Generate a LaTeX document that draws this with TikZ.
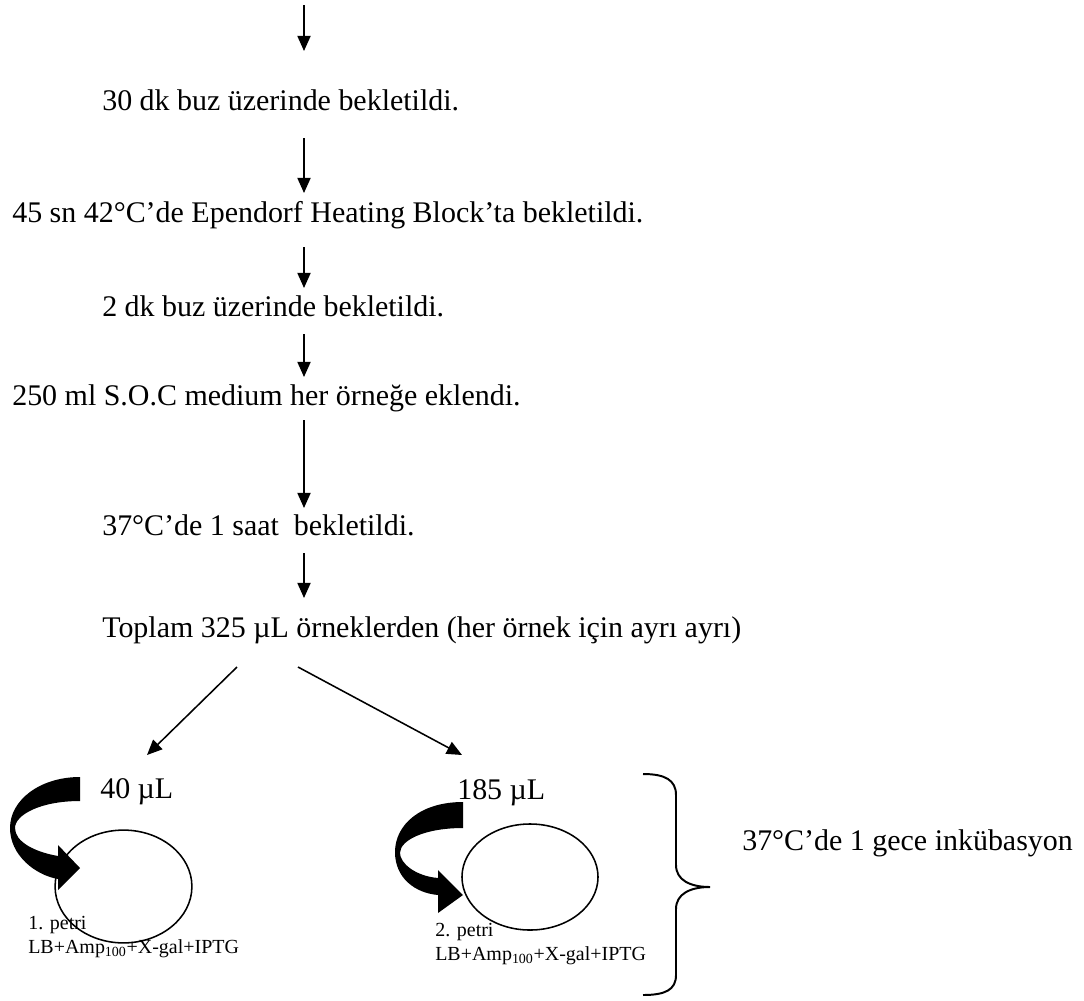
\documentclass[tikz,border=0pt]{standalone}
\usepackage{fontspec}
\setmainfont{Liberation Serif}
\usetikzlibrary{arrows.meta,shapes.geometric}

\begin{document}
\begin{tikzpicture}[x=0.025cm, y=-0.025cm,
    txt/.style={anchor=base west, inner sep=0pt, font=\fontsize{21.3}{25}\selectfont},
    small/.style={anchor=base west, inner sep=0pt, align=left, font=\fontsize{14.2}{16.5}\selectfont},
    flow/.style={-{Triangle[width=0.33cm, length=0.38cm]}, line width=1.1pt},
    plate/.style={draw, ellipse, line width=1.1pt, inner sep=0pt}]
    \useasboundingbox (0,0) rectangle (1084,1000);

    % steps
    \node (s1) at (102,110) [txt] {30 dk buz üzerinde bekletildi.};
    \node (s2) at (12,222) [txt] {45 sn 42°C’de Ependorf Heating Block’ta bekletildi.};
    \node (s3) at (102,316) [txt] {2 dk buz üzerinde bekletildi.};
    \node (s4) at (12,405) [txt] {250 ml S.O.C medium her örneğe eklendi.};
    \node (s5) at (102,535) [txt] {37°C’de 1 saat\ \ bekletildi.};
    \node (s6) at (102,637) [txt] {Toplam 325 µL örneklerden (her örnek için ayrı ayrı)};

    % arrow ends
    \coordinate (a0) at (304,5);   \coordinate (b0) at (304,51);
    \coordinate (a1) at (304,138); \coordinate (b1) at (304,193);
    \coordinate (a2) at (304,247); \coordinate (b2) at (304,288);
    \coordinate (a3) at (304,334); \coordinate (b3) at (304,377);
    \coordinate (a4) at (304,420); \coordinate (b4) at (304,508);
    \coordinate (a5) at (304,553); \coordinate (b5) at (304,598);

    \draw [flow] (a0)--(b0);
    \draw [flow] (a1)--(b1);
    \draw [flow] (a2)--(b2);
    \draw [flow] (a3)--(b3);
    \draw [flow] (a4)--(b4);
    \draw [flow] (a5)--(b5);

    % split into two plates
    \coordinate (l1) at (237,667); \coordinate (l2) at (147,755);
    \coordinate (r1) at (298,667); \coordinate (r2) at (462,755);
    \draw [flow] (l1)--(l2);
    \draw [flow] (r1)--(r2);

    \node (v1) at (100,798) [txt] {40 µL};
    \node (v2) at (457,799) [txt] {185 µL};

    % plates
    \node (p1) at (123.5,886.5) [plate, minimum width=3.42cm, minimum height=2.82cm] {};
    \node (p2) at (530,877) [plate, minimum width=3.4cm, minimum height=2.65cm] {};

    \node (n1) at (28,953) [small] {1. petri\\LB+Amp\textsubscript{100}+X-gal+IPTG};
    \node (n2) at (435,960) [small] {2. petri\\LB+Amp\textsubscript{100}+X-gal+IPTG};

    % pouring arrows
    \fill (80,777) .. controls (40,777) and (10,800) .. (10,828)
        .. controls (10,855) and (35,875) .. (58,879) -- (58,890) -- (80,868) -- (58,845) -- (58,856)
        .. controls (35,852) and (15,842) .. (15,828)
        .. controls (15,815) and (40,801) .. (80,801) -- cycle;
    \fill (463,802) .. controls (420,802) and (395,825) .. (395,852)
        .. controls (395,878) and (415,893) .. (438,895) -- (438,913) -- (463,895) -- (438,870) -- (438,878)
        .. controls (415,876) and (400,863) .. (400,853)
        .. controls (400,840) and (425,828) .. (463,828) -- cycle;

    % incubation
    \draw [line width=1.4pt] (643,774) .. controls (665,774) and (676,780) .. (676,795) -- (676,865)
        .. controls (676,880) and (690,887) .. (710,887)
        .. controls (690,887) and (676,894) .. (676,909) -- (676,975)
        .. controls (676,990) and (665,995) .. (643,995);
    \node (inc) at (742,850) [txt] {37°C’de 1 gece inkübasyon};
\end{tikzpicture}
\end{document}
